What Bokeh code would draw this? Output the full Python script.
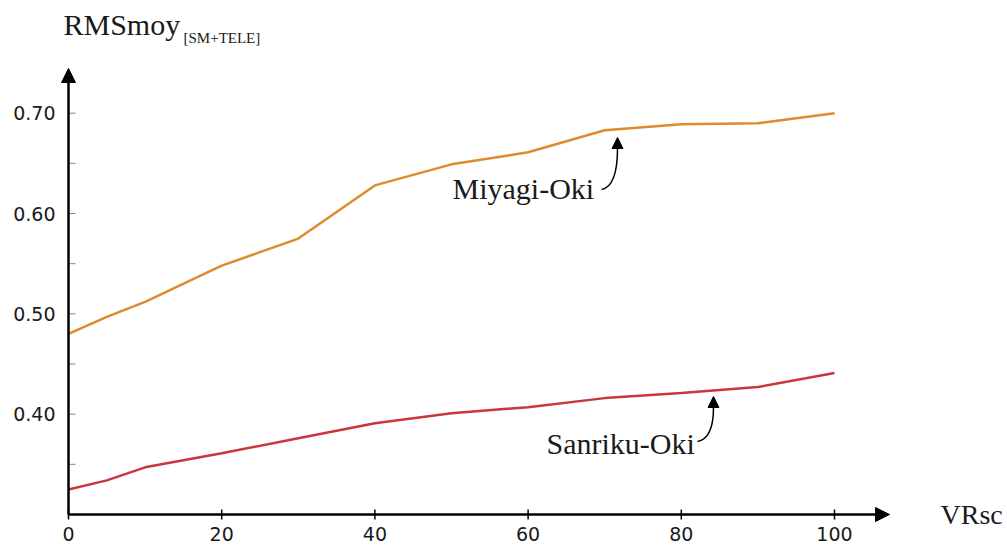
from bokeh.plotting import figure
from bokeh.models import Range1d, Arrow, NormalHead, Label
from bokeh.core.properties import value
from bokeh.embed import file_html
from bokeh.resources import INLINE

# ---- data ----
vrsc = [0, 5, 10, 20, 30, 40, 50, 60, 70, 80, 90, 100]
miyagi = [0.480, 0.497, 0.512, 0.548, 0.575, 0.628, 0.649, 0.661, 0.683, 0.689, 0.690, 0.700]
sanriku = [0.325, 0.334, 0.347, 0.361, 0.376, 0.391, 0.401, 0.407, 0.416, 0.421, 0.427, 0.441]
x_ticks = [0, 20, 40, 60, 80, 100]
x_tick_labels = ["0", "20", "40", "60", "80", "100"]
y_ticks = [0.40, 0.50, 0.60, 0.70]
y_tick_labels = ["0.40", "0.50", "0.60", "0.70"]
y_minor = [0.35, 0.45, 0.55, 0.65]

ORANGE = "#E08A2E"
RED = "#C8373A"
SERIF = "Liberation Serif"
SANS = "DejaVu Sans"

# ---- layout (pixels) ----
W, H = 1005, 548
X0_PX = 68           # where x = 0 sits
Y30_PX = 514         # where y = 0.30 sits
PXX = 7.66           # px per x unit
PXY = 1003.3         # px per y unit
SHIFT = 0.33         # baseline correction (em)

def dx(px):
    return (px - X0_PX) / PXX

def dy(py):
    return 0.30 - (py - Y30_PX) / PXY

p = figure(width=W, height=H, output_backend="svg", toolbar_location=None,
           x_axis_location=None, y_axis_location=None,
           x_range=Range1d(dx(0), dx(W)), y_range=Range1d(dy(H), dy(0)),
           min_border=0)
p.outline_line_color = None
p.grid.visible = False

# axis arrows
p.add_layout(Arrow(end=NormalHead(size=14, fill_color="black", line_color="black"),
                   x_start=0, y_start=0.30, x_end=dx(889), y_end=0.30,
                   line_width=2.5, line_color="black"))
p.add_layout(Arrow(end=NormalHead(size=14, fill_color="black", line_color="black"),
                   x_start=0, y_start=0.30, x_end=0, y_end=dy(68),
                   line_width=2.5, line_color="black"))

# x ticks and labels
n = len(x_ticks)
p.segment(x0=x_ticks, y0=[dy(Y30_PX - 5)] * n, x1=x_ticks, y1=[dy(Y30_PX + 5)] * n,
          line_color="black", line_width=1.5)
p.text(x=x_ticks, y=[dy(540 - SHIFT * 19)] * n, text=x_tick_labels,
       text_font=value(SANS), text_font_size="19px", text_color="#1a1a1a",
       text_align="center", text_baseline="alphabetic")

# y ticks and labels
yt = y_ticks + y_minor
m = len(yt)
p.segment(x0=[0] * m, y0=yt, x1=[dx(X0_PX + 7)] * m, y1=yt,
          line_color="#888888", line_width=1)
p.text(x=[dx(55)] * len(y_ticks), y=y_ticks, text=y_tick_labels,
       text_font=value(SANS), text_font_size="19px", text_color="#1a1a1a",
       text_align="right", text_baseline="middle")

# series
p.line(vrsc, miyagi, line_color=ORANGE, line_width=2.5)
p.line(vrsc, sanriku, line_color=RED, line_width=2.5)

# curved annotation arrows
p.quadratic(x0=[dx(601)], y0=[dy(189)], x1=[dx(617)], y1=[dy(148)],
            cx=[dx(617)], cy=[dy(186)], line_color="black", line_width=1.5)
p.add_layout(Arrow(end=NormalHead(size=11, fill_color="black", line_color="black"),
                   x_start=dx(617), y_start=dy(148), x_end=dx(617), y_end=dy(137),
                   line_width=1.5, line_color="black"))
p.quadratic(x0=[dx(697)], y0=[dy(441)], x1=[dx(713)], y1=[dy(407)],
            cx=[dx(713)], cy=[dy(438)], line_color="black", line_width=1.5)
p.add_layout(Arrow(end=NormalHead(size=11, fill_color="black", line_color="black"),
                   x_start=dx(713), y_start=dy(407), x_end=dx(713), y_end=dy(396),
                   line_width=1.5, line_color="black"))

# texts
def lab(xp, yp, t, size):
    p.add_layout(Label(x=dx(xp), y=dy(yp - SHIFT * size), text=t, text_font=SERIF,
                       text_font_size=f"{size}px", text_color="#1a1a1a",
                       text_baseline="alphabetic", text_align="left"))

lab(452, 198, "Miyagi-Oki", 30)
lab(546, 453, "Sanriku-Oki", 30)
lab(940, 523, "VRsc", 28)
lab(63, 34, "RMSmoy", 30)
lab(183, 42, "[SM+TELE]", 15)

open("out.html", "w").write(file_html(p, INLINE))
